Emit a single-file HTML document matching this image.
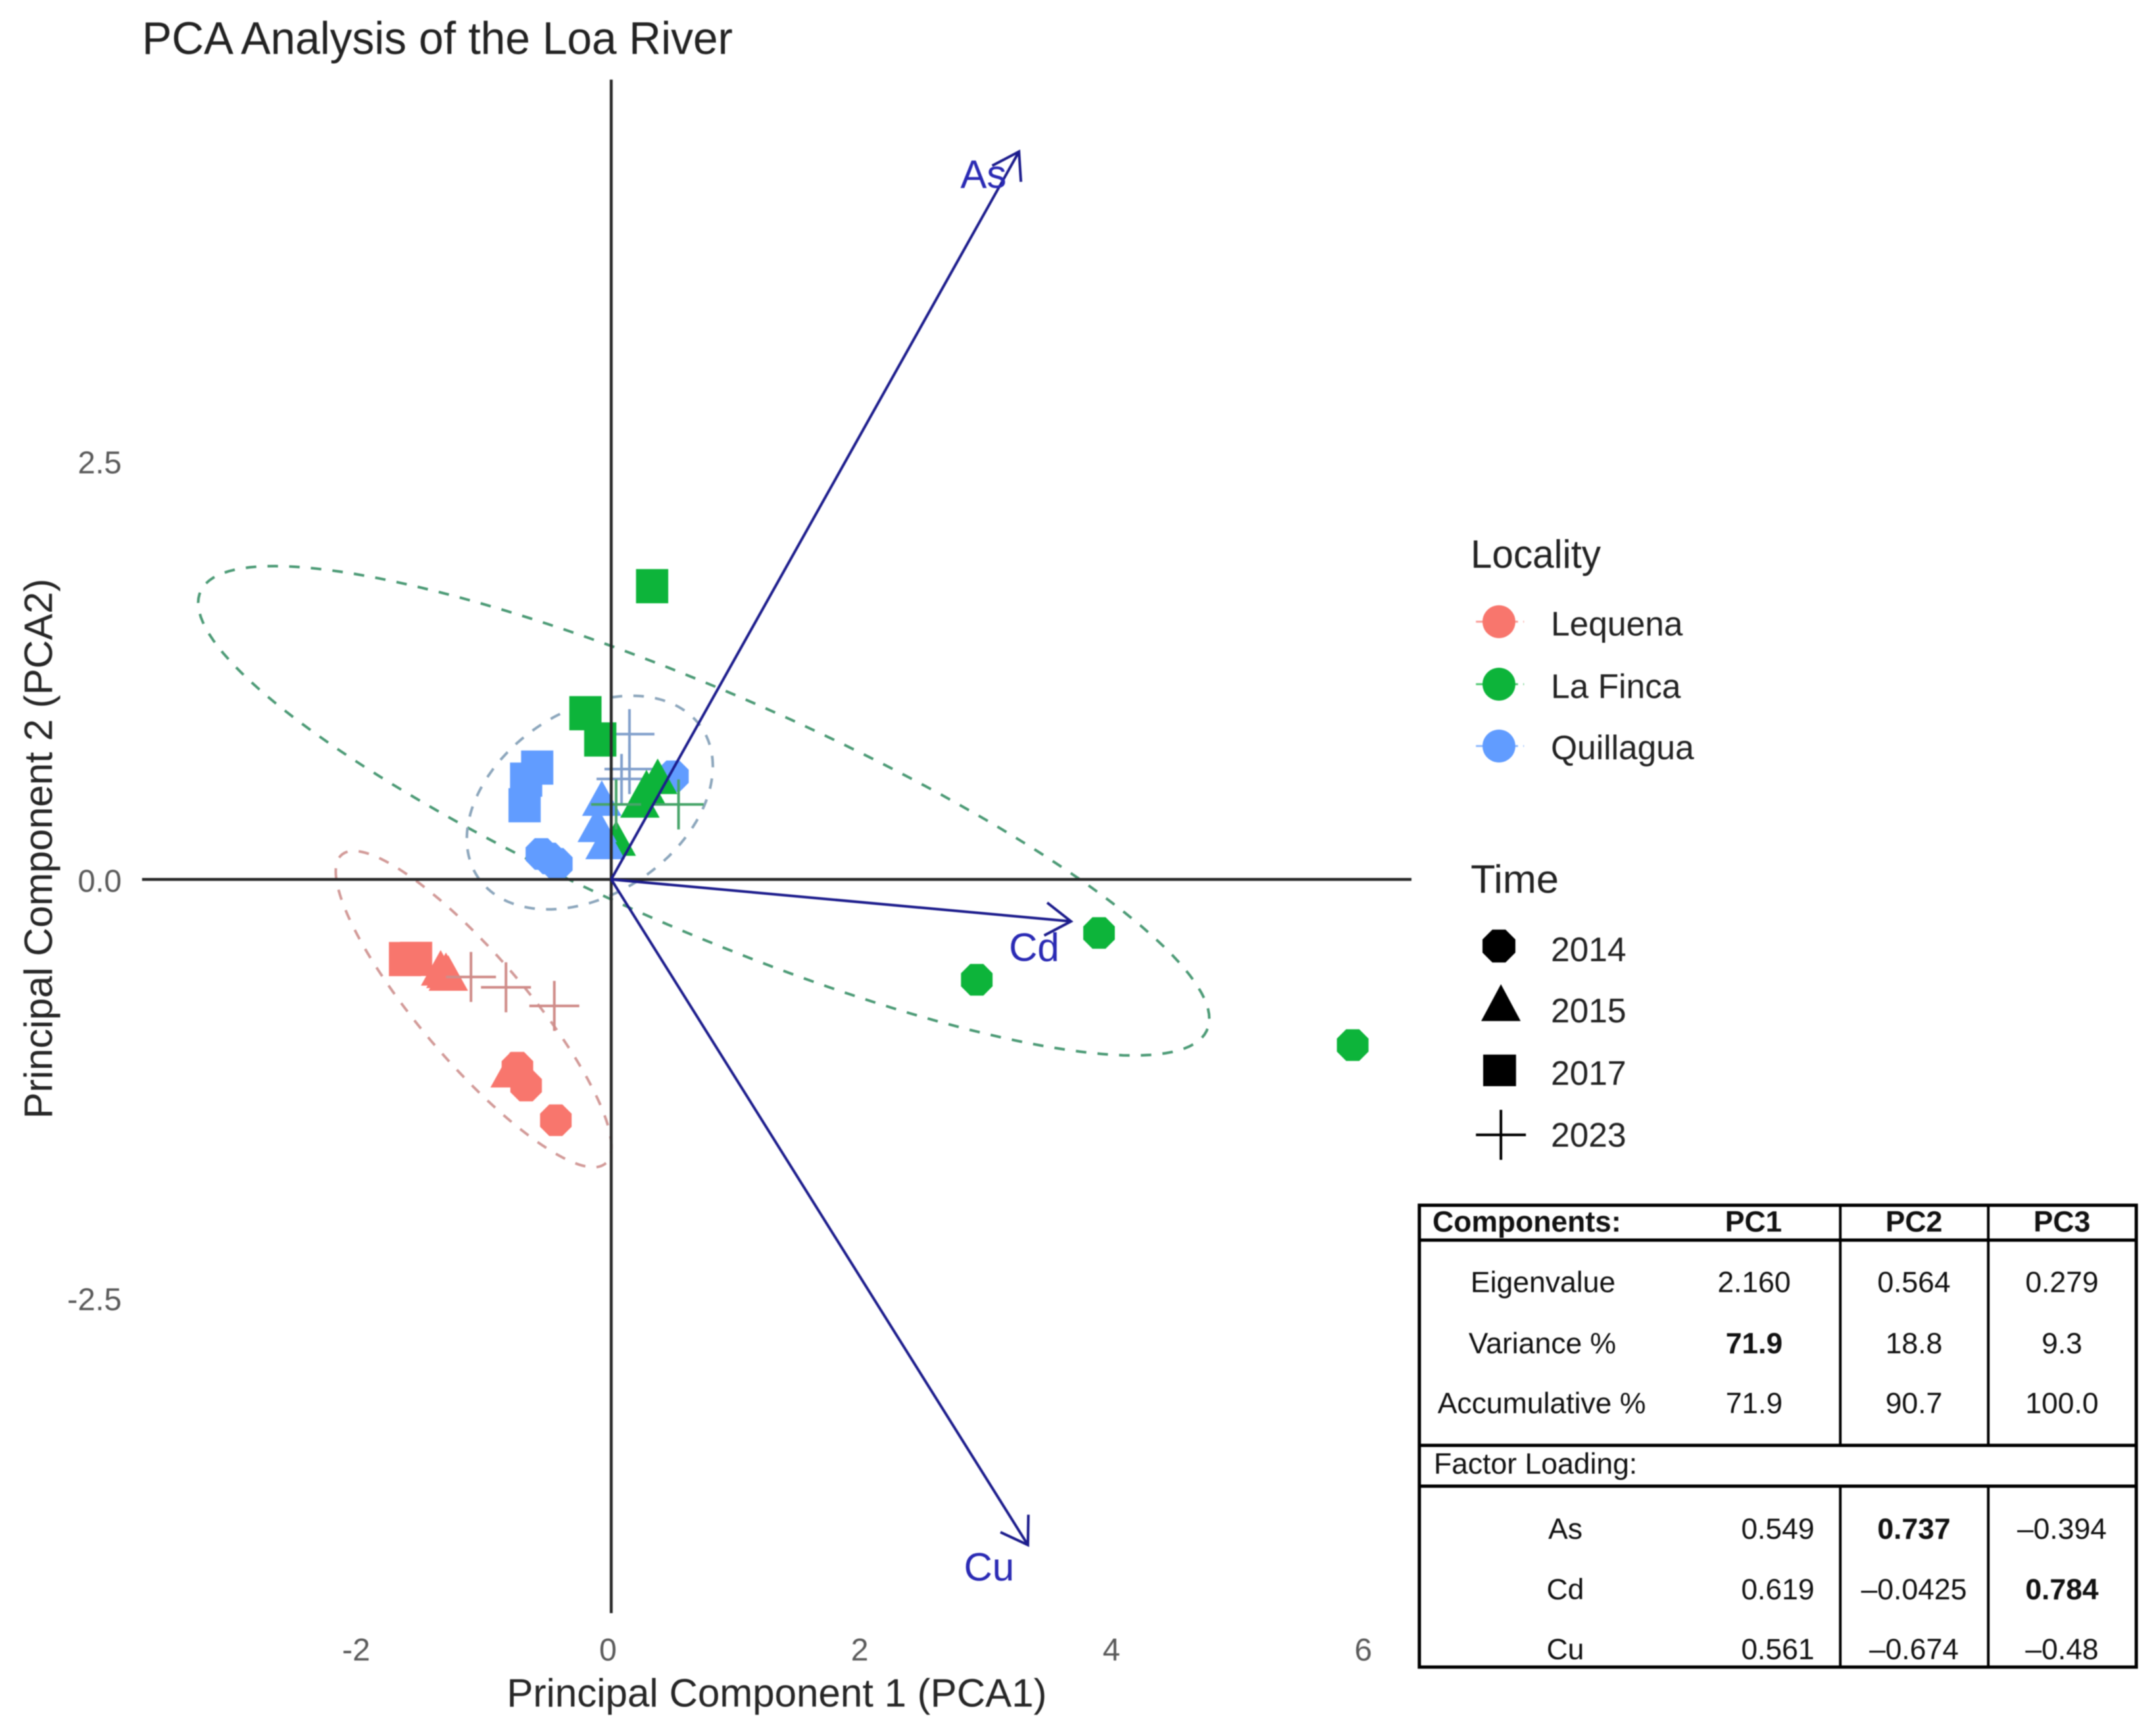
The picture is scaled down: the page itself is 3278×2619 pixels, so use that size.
<!DOCTYPE html>
<html lang="en">
<head>
<meta charset="utf-8">
<title>PCA Analysis of the Loa River</title>
<style>
html,body{margin:0;padding:0;background:#fff;}
svg{display:block;filter:blur(0.7px);}
text{font-family:"Liberation Sans",Arial,sans-serif;}
.tick{font-size:48px;fill:#5a5a5a;text-anchor:middle;}
.axt{font-size:60px;fill:#262626;text-anchor:middle;}
.lgt{font-size:60px;fill:#222;}
.lge{font-size:51.5px;fill:#222;}
.cell{font-size:44.5px;fill:#111;text-anchor:middle;}
.b{font-weight:bold;}
.tl{stroke:#000;stroke-width:5;fill:none;}
</style>
</head>
<body>
<svg id="chart" xmlns="http://www.w3.org/2000/svg" width="3278" height="2619" viewBox="0 0 3278 2619">
<rect width="3278" height="2619" fill="#fff"/>
<text x="216" y="82" font-size="70" fill="#222" textLength="898" lengthAdjust="spacingAndGlyphs">PCA Analysis of the Loa River</text>
<text class="axt" x="1181" y="2594" textLength="821" lengthAdjust="spacingAndGlyphs">Principal Component 1 (PCA1)</text>
<text class="axt" transform="translate(79 1290) rotate(-90)" x="0" y="0" textLength="821" lengthAdjust="spacingAndGlyphs">Principal Component 2 (PCA2)</text>
<g id="ellipses"></g>
<g id="marks"></g>
<g id="zero"></g>
<g id="arrows"></g>
<g id="ticks"></g>

<g>
<text class="lgt" x="2236" y="863" textLength="198" lengthAdjust="spacingAndGlyphs">Locality</text>
<g id="legend-locality"></g>
<text class="lge" x="2358" y="966">Lequena</text>
<text class="lge" x="2358" y="1061">La Finca</text>
<text class="lge" x="2358" y="1154">Quillagua</text>
</g>
<g>
<text class="lgt" x="2236" y="1357" textLength="134" lengthAdjust="spacingAndGlyphs">Time</text>
<polygon fill="#000" points="2269,1413 2289,1413 2304,1428 2304,1448 2289,1463 2269,1463 2254,1448 2254,1428"/>
<polygon fill="#000" points="2282,1496 2312,1552 2252,1552"/>
<rect fill="#000" x="2255" y="1603" width="50" height="48"/>
<path d="M2244 1725H2320M2282 1687V1763" stroke="#000" stroke-width="4" fill="none"/>
<text class="lge" x="2358" y="1461">2014</text>
<text class="lge" x="2358" y="1554">2015</text>
<text class="lge" x="2358" y="1649">2017</text>
<text class="lge" x="2358" y="1743">2023</text>
</g>

<g>
<rect class="tl" x="2158" y="1832" width="1090" height="702"/>
<path class="tl" d="M2158 1885H3248M2158 2197H3248M2158 2259H3248"/>
<path d="M2798 1832V2197M3023 1832V2197M2798 2259V2534M3023 2259V2534" stroke="#000" stroke-width="4" fill="none"/>
<text class="cell b" x="2178" y="1872" style="text-anchor:start">Components:</text>
<text class="cell b" x="2666" y="1872">PC1</text>
<text class="cell b" x="2910" y="1872">PC2</text>
<text class="cell b" x="3135" y="1872">PC3</text>
<text class="cell" x="2346" y="1964">Eigenvalue</text>
<text class="cell" x="2667" y="1964">2.160</text>
<text class="cell" x="2910" y="1964">0.564</text>
<text class="cell" x="3135" y="1964">0.279</text>
<text class="cell" x="2345" y="2057">Variance %</text>
<text class="cell b" x="2667" y="2057">71.9</text>
<text class="cell" x="2910" y="2057">18.8</text>
<text class="cell" x="3135" y="2057">9.3</text>
<text class="cell" x="2344" y="2148">Accumulative %</text>
<text class="cell" x="2667" y="2148">71.9</text>
<text class="cell" x="2910" y="2148">90.7</text>
<text class="cell" x="3135" y="2148">100.0</text>
<text class="cell" x="2180" y="2240" style="text-anchor:start">Factor Loading:</text>
<text class="cell" x="2380" y="2339">As</text>
<text class="cell" x="2703" y="2339">0.549</text>
<text class="cell b" x="2910" y="2339">0.737</text>
<text class="cell" x="3135" y="2339">–0.394</text>
<text class="cell" x="2380" y="2431">Cd</text>
<text class="cell" x="2703" y="2431">0.619</text>
<text class="cell" x="2910" y="2431">–0.0425</text>
<text class="cell b" x="3135" y="2431">0.784</text>
<text class="cell" x="2380" y="2522">Cu</text>
<text class="cell" x="2703" y="2522">0.561</text>
<text class="cell" x="2910" y="2522">–0.674</text>
<text class="cell" x="3135" y="2522">–0.48</text>
</g>
</svg>
<script>
// ---- chart data (PC scores) ----
const xTicks = [-2, 0, 2, 4, 6];
const yTicks = [2.5, 0, -2.5];
const yTickLabels = ['2.5', '0.0', '-2.5'];
const localities = ['Lequena', 'La Finca', 'Quillagua'];
const years = ['2014', '2015', '2017', '2023'];

const lequena2014 = [[-0.745,-1.125],[-0.676,-1.232],[-0.44,-1.439]];
const lequena2015 = [[-1.355,-0.54],[-1.313,-0.555],[-1.294,-0.571],[-0.803,-1.149]];
const lequena2017 = [[-1.638,-0.476],[-1.55,-0.475]];
const lequena2023 = [[-1.114,-0.583],[-0.836,-0.645],[-0.452,-0.756]];

const finca2014 = [[2.904,-0.6],[3.875,-0.32],[5.89,-0.99]];
const finca2015early = [[0.04,0.235]];
const finca2015 = [[0.228,0.463],[0.28,0.537],[0.369,0.604]];
const finca2017 = [[0.325,1.752],[-0.205,0.993],[-0.087,0.836]];
const finca2023 = [[0.535,0.448],[0.039,0.448]];

const quillagua2014 = [[-0.555,0.152],[-0.493,0.125],[-0.432,0.093],[0.49,0.616]];
const quillagua2015 = [[-0.075,0.474],[-0.111,0.317],[-0.049,0.215]];
const quillagua2017 = [[-0.588,0.668],[-0.676,0.596],[-0.688,0.443]];
const quillagua2023 = [[0.145,0.868],[0.145,0.659],[0.082,0.6]];

// loadings come from the table; arrows use a biplot scale factor
const variables = ['As', 'Cd', 'Cu'];
const loadingsPC1 = [0.549, 0.619, 0.561];
const loadingsPC2 = [0.737, -0.0425, -0.674];
const arrowScale = [5.9];

// ellipse summaries: centre x, centre y, sd-x extent, sd-y extent, correlation
const ellipseLequena = [-1.093, -0.775, 1.095, 0.945, -0.87];
const ellipseFinca = [0.735, 0.41, 4.016, 1.462, -0.85];
const ellipseQuillagua = [-0.17, 0.459, 0.977, 0.638, 0.34];

// ---- axis functions ----
const X = v => 929.3 + 191.4 * v;
const Y = v => 1336.7 - 254.4 * v;
const NS = 'http://www.w3.org/2000/svg';
const RED = '#F8766D', GREEN = '#0DB43A', BLUE = '#619CFF';
const CROSS = { red: '#CF8C89', green: '#46A468', blue: '#82A0CC' };

function el(tag, parent, attrs) {
  const e = document.createElementNS(NS, tag);
  for (const k in attrs) e.setAttribute(k, attrs[k]);
  parent.appendChild(e);
  return e;
}

function octagonPoints(cx, cy, r) {
  const pts = [];
  for (let i = 0; i < 8; i++) {
    const a = Math.PI / 8 + i * Math.PI / 4;
    pts.push((cx + r * Math.cos(a)).toFixed(1) + ',' + (cy + r * Math.sin(a)).toFixed(1));
  }
  return pts.join(' ');
}

const marks = document.getElementById('marks');

function drawCircles(data, color) {
  data.forEach(d => {
    const m = el('polygon', marks, { points: octagonPoints(X(d[0]), Y(d[1]), 26), fill: color });
    
    
  });
}
function drawTriangles(data, color) {
  data.forEach(d => {
    const cx = X(d[0]), cy = Y(d[1]);
    const m = el('polygon', marks, { points: [cx, cy - 30, cx + 30, cy + 24, cx - 30, cy + 24].join(' '), fill: color });
    
    
  });
}
function drawSquares(data, color) {
  data.forEach(d => {
    const m = el('rect', marks, { x: X(d[0]) - 24.5, y: Y(d[1]) - 26, width: 49, height: 52, fill: color });
    
    
  });
}
function drawCrosses(data, color) {
  data.forEach(d => {
    const cx = X(d[0]), cy = Y(d[1]);
    const m = el('path', marks, { d: `M${cx - 38} ${cy}H${cx + 38}M${cx} ${cy - 38}V${cy + 38}`, stroke: color, 'stroke-width': 4, fill: 'none' });
    
    
  });
}

// ellipses
function drawEllipse(p, color, name) {
  const phi = Math.acos(p[4]);
  let d = '';
  for (let i = 0; i <= 180; i++) {
    const t = i / 180 * 2 * Math.PI;
    const px = X(p[0] + p[2] * Math.cos(t));
    const py = Y(p[1] + p[3] * Math.cos(t - phi));
    d += (i ? 'L' : 'M') + px.toFixed(1) + ' ' + py.toFixed(1);
  }
  const e = el('path', document.getElementById('ellipses'), { d: d + 'Z', fill: 'none', stroke: color, 'stroke-width': 4, 'stroke-dasharray': '16 17' });
  
  
}
drawEllipse(ellipseLequena, '#D29A98', 'ellipse-lequena');
drawEllipse(ellipseFinca, '#4B9A75', 'ellipse-la-finca');
drawEllipse(ellipseQuillagua, '#8CA6BC', 'ellipse-quillagua');

// points (paint order follows the figure)
drawSquares(lequena2017, RED);
drawTriangles(lequena2015, RED);
drawCircles(lequena2014, RED);
drawCrosses(lequena2023, CROSS.red);
drawCrosses(quillagua2023, CROSS.blue);
drawCircles(quillagua2014, BLUE);
drawCircles(finca2014, GREEN);
drawSquares(quillagua2017, BLUE);
drawTriangles(finca2015early, GREEN);
drawTriangles(quillagua2015, BLUE);
drawTriangles(finca2015, GREEN);
drawSquares(finca2017, GREEN);
drawCrosses(finca2023, CROSS.green);

// zero lines, drawn over the points
const zero = document.getElementById('zero');
const hZero = el('line', zero, { x1: 216, x2: 2146, y1: Y(0), y2: Y(0), stroke: '#2a2a2a', 'stroke-width': 4.5 });


const vZero = el('line', zero, { x1: X(0), x2: X(0), y1: 121, y2: 2452, stroke: '#2a2a2a', 'stroke-width': 4.5 });



// tick labels
const ticks = document.getElementById('ticks');
xTicks.forEach(v => {
  const t = el('text', ticks, { class: 'tick', x: X(v) - 5, y: 2524 });
  t.textContent = String(v);
  
  
});
yTicks.forEach((v, i) => {
  const t = el('text', ticks, { class: 'tick', x: 185, y: Y(v) + 19, style: 'text-anchor:end' });
  t.textContent = yTickLabels[i];
  
  
});

// loading arrows
const arrowGroup = document.getElementById('arrows');
const labelOffsets = { As: [-54, 37], Cd: [-56, 42], Cu: [-59, 36] };
variables.forEach((name, i) => {
  const tx = X(loadingsPC1[i] * arrowScale[0]);
  const ty = Y(loadingsPC2[i] * arrowScale[0]);
  const ox = X(0), oy = Y(0);
  const ang = Math.atan2(ty - oy, tx - ox);
  const hl = 46, ha = 33 * Math.PI / 180;
  const bx1 = tx - hl * Math.cos(ang - ha), by1 = ty - hl * Math.sin(ang - ha);
  const bx2 = tx - hl * Math.cos(ang + ha), by2 = ty - hl * Math.sin(ang + ha);
  const a = el('path', arrowGroup, {
    d: `M${ox} ${oy}L${tx} ${ty}M${bx1} ${by1}L${tx} ${ty}L${bx2} ${by2}`,
    stroke: '#1C1C8C', 'stroke-width': 4, fill: 'none'
  });
  
  
  const off = labelOffsets[name];
  const t = el('text', arrowGroup, { x: tx + off[0], y: ty + off[1] + 18, 'font-size': 60, fill: '#2A2AB4', 'text-anchor': 'middle' });
  t.textContent = name;
  
  
});

// locality legend keys
const legendLocality = document.getElementById('legend-locality');
const legendColors = [RED, GREEN, BLUE];
const legendRowY = [945, 1040, 1134];
localities.forEach((name, i) => {
  const dash = el('path', legendLocality, {
    d: `M2244 ${legendRowY[i]}H2317`, stroke: legendColors[i], 'stroke-width': 3, 'stroke-dasharray': '10 8', opacity: 0.7
  });
  
  
  const c = el('circle', legendLocality, { cx: 2279, cy: legendRowY[i], r: 25, fill: legendColors[i] });
  
  
});
</script>
</body>
</html>
